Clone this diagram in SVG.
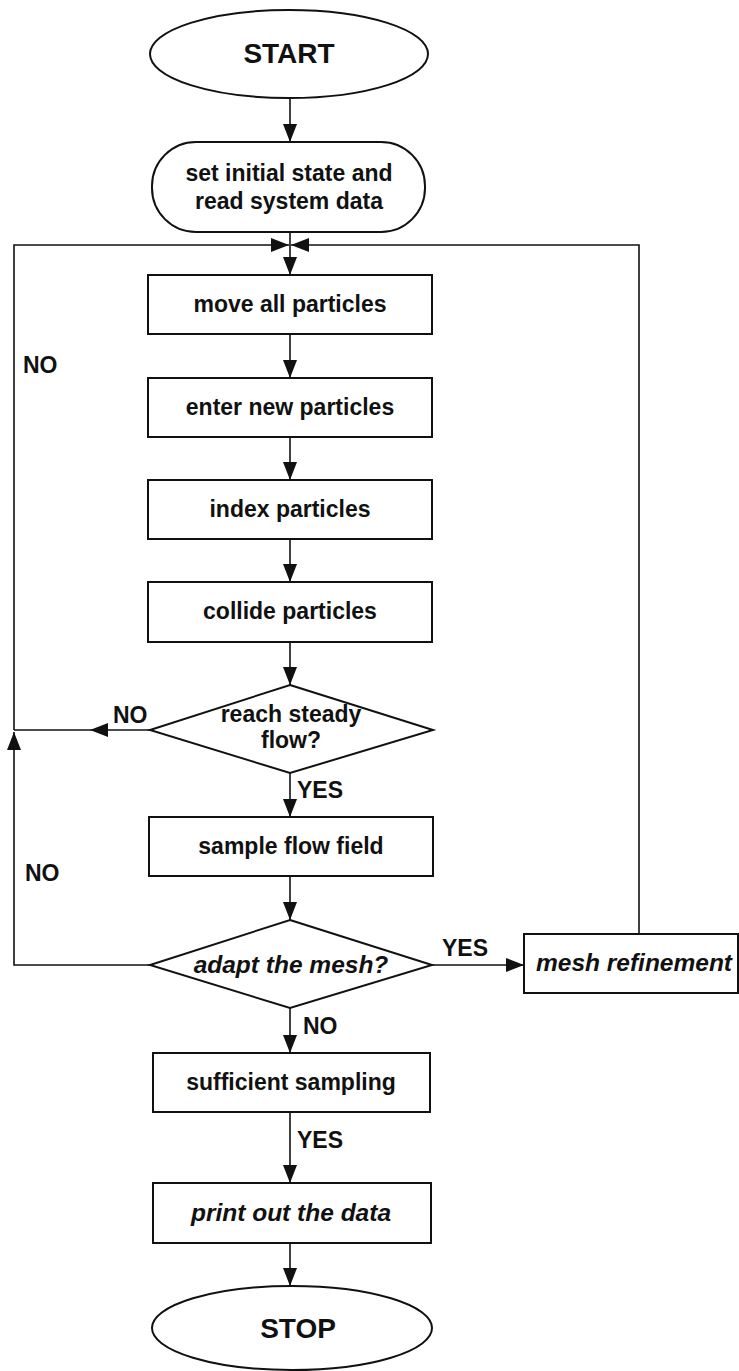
<svg xmlns="http://www.w3.org/2000/svg" width="739" height="1371" viewBox="0 0 739 1371">
<style>
.s{fill:#fff;stroke:#111;stroke-width:2}
.c{fill:none;stroke:#111;stroke-width:1.6}
.t{font-family:"Liberation Sans",Arial,sans-serif;font-weight:bold;font-size:23px;fill:#111;text-anchor:middle}
.i{font-style:italic;font-size:24.5px}
.l{font-family:"Liberation Sans",Arial,sans-serif;font-weight:bold;font-size:23px;fill:#111}
.big{font-size:28px}
</style>
<defs>
<marker id="a" markerUnits="userSpaceOnUse" markerWidth="18" markerHeight="14" refX="18" refY="7" orient="auto">
<path d="M0,0 L18,7 L0,14 z" fill="#111"/>
</marker>
</defs>
<rect width="739" height="1371" fill="#fff"/>
<g id="connectors">
<line class="c" x1="290" y1="98" x2="290" y2="142" marker-end="url(#a)"/>
<line class="c" x1="290" y1="232" x2="290" y2="275" marker-end="url(#a)"/>
<path class="c" d="M14,730 L14,245 L289,245" marker-end="url(#a)"/>
<path class="c" d="M639,934 L639,245 L291,245" marker-end="url(#a)"/>
<line class="c" x1="290" y1="334" x2="290" y2="378" marker-end="url(#a)"/>
<line class="c" x1="290" y1="437" x2="290" y2="480" marker-end="url(#a)"/>
<line class="c" x1="290" y1="539" x2="290" y2="582" marker-end="url(#a)"/>
<line class="c" x1="290" y1="642" x2="290" y2="685" marker-end="url(#a)"/>
<line class="c" x1="150" y1="730" x2="90" y2="730" marker-end="url(#a)"/>
<line class="c" x1="90" y1="730" x2="14" y2="730"/>
<line class="c" x1="290" y1="773" x2="290" y2="817" marker-end="url(#a)"/>
<line class="c" x1="290" y1="876" x2="290" y2="920" marker-end="url(#a)"/>
<path class="c" d="M150,965 L14,965 L14,732" marker-end="url(#a)"/>
<line class="c" x1="432" y1="965" x2="524" y2="965" marker-end="url(#a)"/>
<line class="c" x1="290" y1="1008" x2="290" y2="1053" marker-end="url(#a)"/>
<line class="c" x1="290" y1="1112" x2="290" y2="1183" marker-end="url(#a)"/>
<line class="c" x1="290" y1="1243" x2="290" y2="1286" marker-end="url(#a)"/>
<text class="l" x="23" y="373">NO</text>
<text class="l" x="113" y="723">NO</text>
<text class="l" x="297" y="798">YES</text>
<text class="l" x="25" y="881">NO</text>
<text class="l" x="442" y="956">YES</text>
<text class="l" x="303" y="1034">NO</text>
<text class="l" x="297" y="1148">YES</text>
</g>
<g id="start">
<ellipse class="s" cx="289" cy="54" rx="139" ry="44"/>
<text class="t big" x="289" y="63">START</text>
</g>
<g id="init">
<rect class="s" x="152" y="142" width="273" height="90" rx="44" ry="44"/>
<text class="t" x="289" y="181">set initial state and</text>
<text class="t" x="289" y="209">read system data</text>
</g>
<g id="move">
<rect class="s" x="148" y="275" width="284" height="59"/>
<text class="t" x="290" y="312">move all particles</text>
</g>
<g id="enter">
<rect class="s" x="148" y="378" width="284" height="59"/>
<text class="t" x="290" y="415">enter new particles</text>
</g>
<g id="index">
<rect class="s" x="148" y="480" width="284" height="59"/>
<text class="t" x="290" y="517">index particles</text>
</g>
<g id="collide">
<rect class="s" x="148" y="582" width="284" height="60"/>
<text class="t" x="290" y="619">collide particles</text>
</g>
<g id="steady">
<polygon class="s" points="290,685 433,730 290,773 150,730"/>
<text class="t" x="291" y="722">reach steady</text>
<text class="t" x="291" y="748">flow?</text>
</g>
<g id="sample">
<rect class="s" x="149" y="817" width="284" height="59"/>
<text class="t" x="291" y="854">sample flow field</text>
</g>
<g id="adapt">
<polygon class="s" points="290,920 432,965 290,1008 150,965"/>
<text class="t i" x="291" y="973">adapt the mesh?</text>
</g>
<g id="refine">
<rect class="s" x="524" y="934" width="214" height="59"/>
<text class="t i" x="634" y="971">mesh refinement</text>
</g>
<g id="sufficient">
<rect class="s" x="153" y="1053" width="277" height="59"/>
<text class="t" x="291" y="1090">sufficient sampling</text>
</g>
<g id="print">
<rect class="s" x="153" y="1183" width="278" height="60"/>
<text class="t i" x="291" y="1221">print out the data</text>
</g>
<g id="stop">
<ellipse class="s" cx="292" cy="1328" rx="140" ry="42"/>
<text class="t big" x="298" y="1338">STOP</text>
</g>
</svg>
